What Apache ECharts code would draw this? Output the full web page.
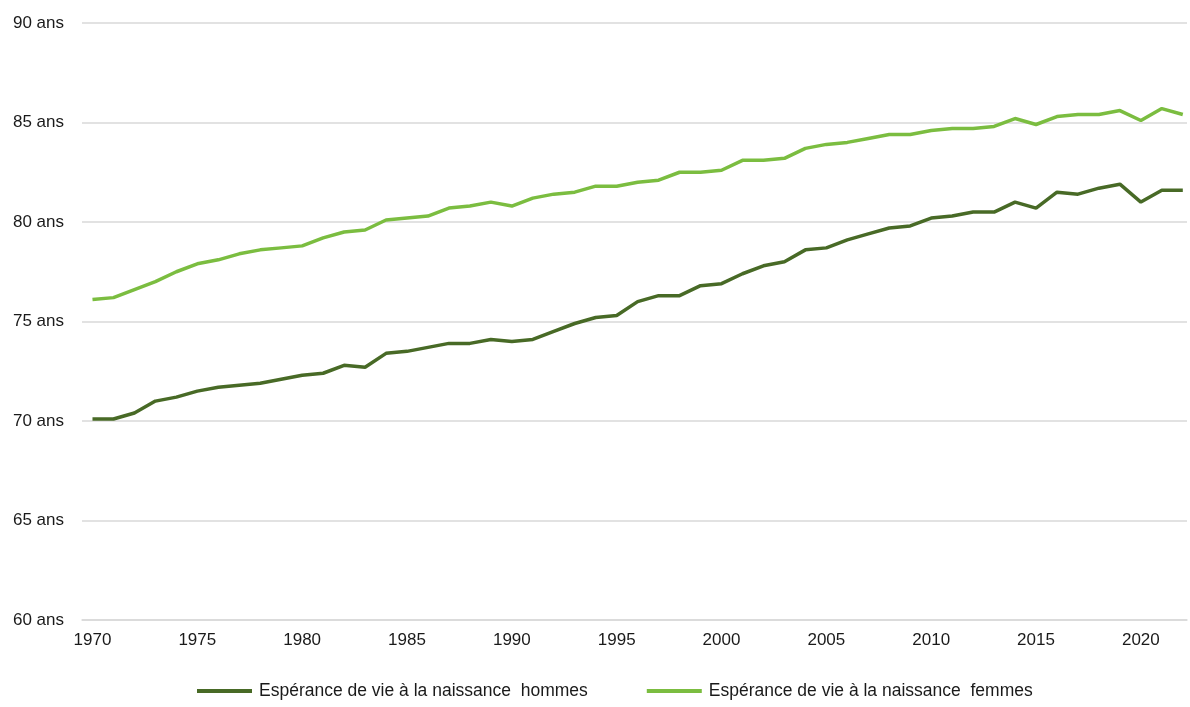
<!DOCTYPE html>
<html>
<head>
<meta charset="utf-8">
<script src="https://cdn.jsdelivr.net/npm/echarts@6/dist/echarts.min.js"></script>
<style>
html,body{margin:0;padding:0;background:#fff;}
#chart{width:1190px;height:707px;}
</style>
</head>
<body>
<div id="chart"></div>
<script>
var years=[];
for(var y=1970;y<=2022;y++) years.push(y);
var hommes=[70.1,70.1,70.4,71.0,71.2,71.5,71.7,71.8,71.9,72.1,72.3,72.4,72.8,72.7,73.4,73.5,73.7,73.9,73.9,74.1,
    74.0,74.1,74.5,74.9,75.2,75.3,76.0,76.3,76.3,76.8,76.9,77.4,77.8,78.0,78.6,78.7,79.1,79.4,79.7,79.8,
    80.2,80.3,80.5,80.5,81.0,80.7,81.5,81.4,81.7,81.9,81.0,81.6,81.6];
var femmes=[76.1,76.2,76.6,77.0,77.5,77.9,78.1,78.4,78.6,78.7,78.8,79.2,79.5,79.6,80.1,80.2,80.3,80.7,80.8,81.0,
    80.8,81.2,81.4,81.5,81.8,81.8,82.0,82.1,82.5,82.5,82.6,83.1,83.1,83.2,83.7,83.9,84.0,84.2,84.4,84.4,
    84.6,84.7,84.7,84.8,85.2,84.9,85.3,85.4,85.4,85.6,85.1,85.7,85.4];
var xTicks=[1970,1975,1980,1985,1990,1995,2000,2005,2010,2015,2020];
var names=['Espérance de vie à la naissance  hommes','Espérance de vie à la naissance  femmes'];

var pairs=function(vals){
    return years.map(function(yr,i){ return [yr,vals[i]]; });
};

var dom=document.getElementById('chart');
var myChart=echarts.init(dom);
var font='"Liberation Sans", Arial, sans-serif';
var option={
    animation:false,
    backgroundColor:'#fff',
    grid:{left:82,right:3,top:23,bottom:87},
    legend:{
        top:682,
        left:197,
        padding:0,
        icon:'rect',
        itemWidth:55,
        itemHeight:4,
        itemGap:59,
        textStyle:{fontFamily:font,fontSize:17.5,color:'#1a1a1a',padding:[0,0,0,2]},
        data:names
    },
    xAxis:{
        type:'value',
        min:1969.5,
        max:2022.2,
        axisLine:{show:true,lineStyle:{color:'#d9d9d9',width:1.5}},
        axisTick:{show:false},
        splitLine:{show:false},
        axisLabel:{
            customValues:xTicks,
            margin:12,
            fontFamily:font,fontSize:17,color:'#1a1a1a',
            formatter:function(v){ return String(v); }
        }
    },
    yAxis:{
        type:'value',
        min:60,max:90,interval:5,
        axisLine:{show:false},
        axisTick:{show:false},
        splitLine:{lineStyle:{color:'#d9d9d9',width:1.5}},
        axisLabel:{
            margin:18,
            fontFamily:font,fontSize:17,color:'#1a1a1a',
            formatter:'{value} ans'
        }
    },
    series:[{
        name:names[0],
        type:'line',
        showSymbol:false,
        data:pairs(hommes),
        lineStyle:{width:3.5,color:'#486a26'},
        itemStyle:{color:'#486a26'}
    },{
        name:names[1],
        type:'line',
        showSymbol:false,
        data:pairs(femmes),
        lineStyle:{width:3.5,color:'#7bbd40'},
        itemStyle:{color:'#7bbd40'}
    }]
};
myChart.setOption(option);
</script>
</body>
</html>
